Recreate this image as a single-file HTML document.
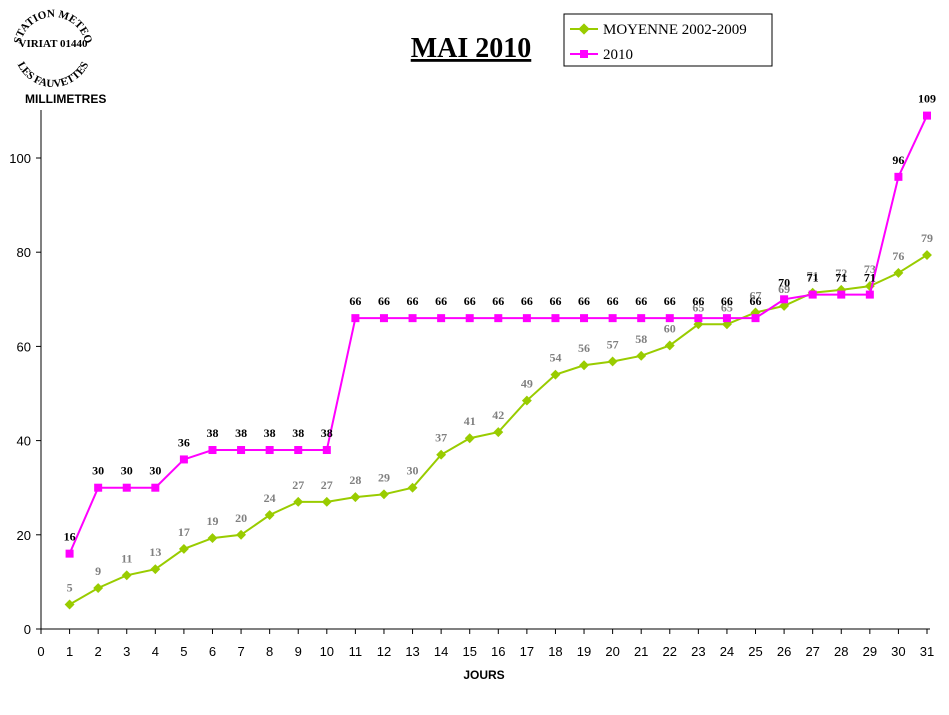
<!DOCTYPE html>
<html><head><meta charset="utf-8"><style>
body{margin:0;background:#fff;width:949px;height:715px;overflow:hidden}
svg{display:block}
</style></head><body>
<svg id="chart" width="949" height="715">
<defs><path id="arcTop" d="M20,50 A33,33 0 0,1 86,50"/><path id="arcBot" d="M14,48 A39,39 0 0,0 92,48"/></defs>
<g font-family="Liberation Serif, serif" font-weight="bold" font-size="11">
<text><textPath href="#arcTop" startOffset="50%" text-anchor="middle">STATION METEO</textPath></text>
<text x="53" y="47" text-anchor="middle" font-size="11">VIRIAT 01440</text>
<text><textPath href="#arcBot" startOffset="50%" text-anchor="middle">LES FAUVETTES</textPath></text>
</g>
<text x="471" y="57" text-anchor="middle" font-family="Liberation Serif, serif" font-weight="bold" font-size="28" text-decoration="underline">MAI 2010</text>
<text x="25" y="103" font-family="Liberation Sans, sans-serif" font-weight="bold" font-size="12">MILLIMETRES</text>
<text x="484" y="679" text-anchor="middle" font-family="Liberation Sans, sans-serif" font-weight="bold" font-size="12">JOURS</text>
<g>
<rect x="564" y="14" width="208" height="52" fill="#fff" stroke="#000"/>
<line x1="570" y1="29" x2="598" y2="29" stroke="#99cc00" stroke-width="2"/>
<rect x="580" y="25" width="8" height="8" fill="#99cc00" transform="rotate(45 584 29)"/>
<text x="603" y="34" font-family="Liberation Serif, serif" font-size="15">MOYENNE 2002-2009</text>
<line x1="570" y1="54" x2="598" y2="54" stroke="#ff00ff" stroke-width="2"/>
<rect x="580" y="50" width="8" height="8" fill="#ff00ff"/>
<text x="603" y="59" font-family="Liberation Serif, serif" font-size="15">2010</text>
</g>
<g id="axes"></g><g id="series"></g>
</svg>
<script>
const days=[0,1,2,3,4,5,6,7,8,9,10,11,12,13,14,15,16,17,18,19,20,21,22,23,24,25,26,27,28,29,30,31];
const yTicks=[0,20,40,60,80,100];
const moyenne=[5.2,8.7,11.4,12.7,17,19.3,20,24.2,27,27,28,28.6,30,37,40.5,41.8,48.5,54,56,56.8,58,60.2,64.7,64.7,67.2,68.6,71.4,72,72.8,75.6,79.4];
const rain2010=[16,30,30,30,36,38,38,38,38,38,66,66,66,66,66,66,66,66,66,66,66,66,66,66,66,70,71,71,71,96,109];
const NS='http://www.w3.org/2000/svg';
const X=d=>41+d*(927-41)/31, Y=v=>629-v*(629-158)/100;
function mk(tag,attrs,parent,txt){const e=document.createElementNS(NS,tag);for(const k in attrs)e.setAttribute(k,attrs[k]);if(txt!=null)e.textContent=txt;parent.appendChild(e);return e;}
const ax=document.getElementById('axes'), sr=document.getElementById('series');
let a=mk('line',{x1:41,y1:110,x2:41,y2:629,stroke:'#000'},ax);


a=mk('line',{x1:41,y1:629,x2:930,y2:629,stroke:'#000'},ax);


yTicks.forEach(v=>{mk('line',{x1:36,y1:Y(v),x2:41,y2:Y(v),stroke:'#000'},ax);
 const t=mk('text',{x:31,y:Y(v)+5,'text-anchor':'end','font-family':'Liberation Sans, sans-serif','font-size':13},ax,v);
 
 });
days.forEach(d=>{mk('line',{x1:X(d),y1:629,x2:X(d),y2:634,stroke:'#000'},ax);
 const t=mk('text',{x:X(d),y:656,'text-anchor':'middle','font-family':'Liberation Sans, sans-serif','font-size':13},ax,d);
 
 });
function series(vals,color,marker,labColor,name){
 const pts=vals.map((v,i)=>X(i+1)+','+Y(v)).join(' ');
 const l=mk('polyline',{points:pts,fill:'none',stroke:color,'stroke-width':2},sr);
 
 
 vals.forEach((v,i)=>{const x=X(i+1),y=Y(v);let m;
  if(marker==='sq')m=mk('rect',{x:x-4,y:y-4,width:8,height:8,fill:color},sr);
  else m=mk('rect',{x:x-3.5,y:y-3.5,width:7,height:7,fill:color,transform:`rotate(45 ${x} ${y})`},sr);
  
  
  const t=mk('text',{x:x,y:y-13,'text-anchor':'middle','font-family':'Liberation Serif, serif','font-weight':'bold','font-size':12,fill:labColor},sr,Math.round(v));
  
  });
}
series(moyenne,'#99cc00','dia','#808080','moyenne');
series(rain2010,'#ff00ff','sq','#000','rain-2010');
</script>
</body></html>
